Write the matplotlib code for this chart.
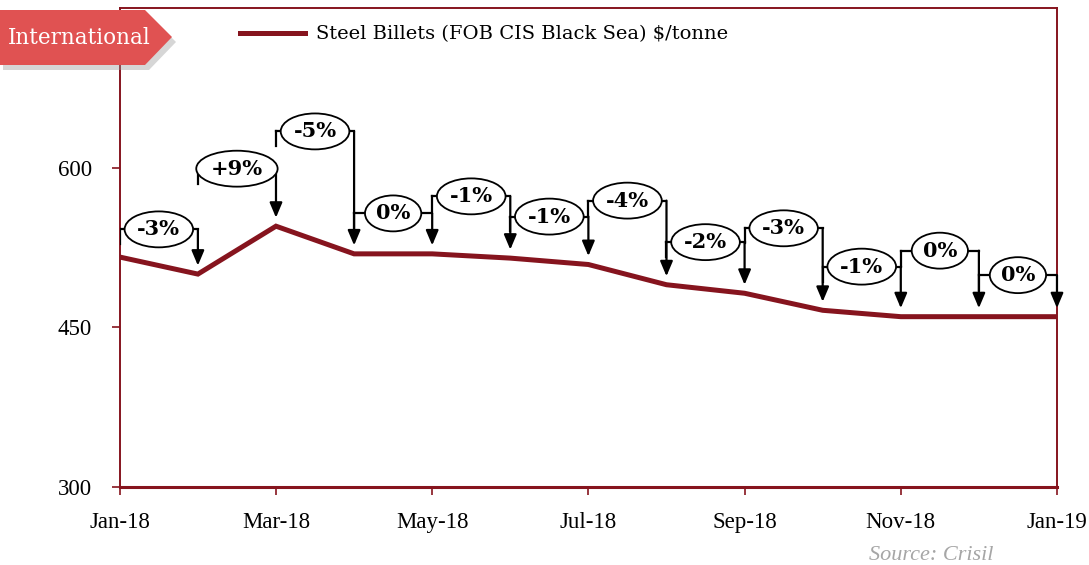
import matplotlib.pyplot as plt
from matplotlib.patches import Polygon

months = ['Jan-18', 'Feb-18', 'Mar-18', 'Apr-18', 'May-18', 'Jun-18', 'Jul-18',
          'Aug-18', 'Sep-18', 'Oct-18', 'Nov-18', 'Dec-18', 'Jan-19']
price = [516, 500, 545, 519, 519, 515, 509, 490, 482, 466, 460, 460, 460]
pct_labels = ['-3%', '+9%', '-5%', '0%', '-1%', '-1%', '-4%',
              '-2%', '-3%', '-1%', '0%', '0%']
# height of each callout bracket above the higher of its two points
bracket_lift = [26, 54, 89, 38, 54, 39, 60, 40, 61, 41, 62, 39]

RED = '#86141e'
SERIF = ['DejaVu Serif']
plt.rcParams['font.family'] = ['Liberation Serif', 'DejaVu Serif']

fig = plt.figure(figsize=(10.89, 5.65), dpi=100)
ax = fig.add_axes([0.110, 0.138, 0.8606, 0.848])

x = list(range(len(months)))
ax.plot(x, price, color=RED, lw=3.6, solid_joinstyle='miter', zorder=3,
        label='Steel Billets (FOB CIS Black Sea) $/tonne')

for i, lab in enumerate(pct_labels):
    level = max(price[i], price[i + 1]) + bracket_lift[i]
    ax.plot([i, i], [level, level - 14], color='black', lw=1.6, zorder=4)
    ax.plot([i, i + 1], [level, level], color='black', lw=1.6, zorder=4)
    ax.annotate('', xy=(i + 1, price[i + 1] + 8), xytext=(i + 1, level),
                arrowprops=dict(arrowstyle='-|>,head_length=0.9,head_width=0.38',
                                color='black', lw=1.6, shrinkA=0, shrinkB=0),
                zorder=4)
    ax.text(i + 0.5, level, lab, ha='center', va='center', fontsize=15,
            fontweight='bold', family=SERIF, zorder=5,
            bbox=dict(boxstyle='ellipse,pad=0.13', fc='white', ec='black', lw=1.3))

ax.set_xlim(0, 12)
ax.set_ylim(300, 750)
ax.set_yticks([300, 450, 600])
ax.set_xticks(x[::2])
ax.set_xticklabels(months[::2])
ax.tick_params(axis='both', colors=RED, labelcolor='black', labelsize=16.5,
               length=6, width=1.2)
ax.tick_params(axis='x', pad=12)
ax.tick_params(axis='y', pad=14)
for s in ax.spines.values():
    s.set_color(RED)
    s.set_linewidth(1.4)
ax.spines['bottom'].set_linewidth(2.2)

leg = ax.legend(loc='upper left', bbox_to_anchor=(0.11, 1.0), frameon=False,
                handlelength=3.3, handletextpad=0.6,
                prop={'family': SERIF, 'size': 14})

# "International" banner
W, H = 1089, 565
def fpt(px, py):
    return (px / W, 1 - py / H)
shadow = Polygon([fpt(3, 15), fpt(149, 15), fpt(176, 42), fpt(149, 70), fpt(3, 70)],
                 closed=True, transform=fig.transFigure, fc='#999999', ec='none',
                 alpha=0.4, zorder=8)
banner = Polygon([fpt(0, 10), fpt(145, 10), fpt(172, 37), fpt(145, 65), fpt(0, 65)],
                 closed=True, transform=fig.transFigure, fc='#e05252', ec='none',
                 zorder=9)
fig.patches.extend([shadow, banner])
fig.text(79 / W, 1 - 38 / H, 'International', color='white', fontsize=15.5,
         family=SERIF, ha='center', va='center', zorder=10)

fig.text(993 / W, 1 - 555 / H, 'Source: Crisil', color='#a6a6a6', fontsize=16,
         style='italic', ha='right', va='center')

fig.savefig('out.png', dpi=100)
